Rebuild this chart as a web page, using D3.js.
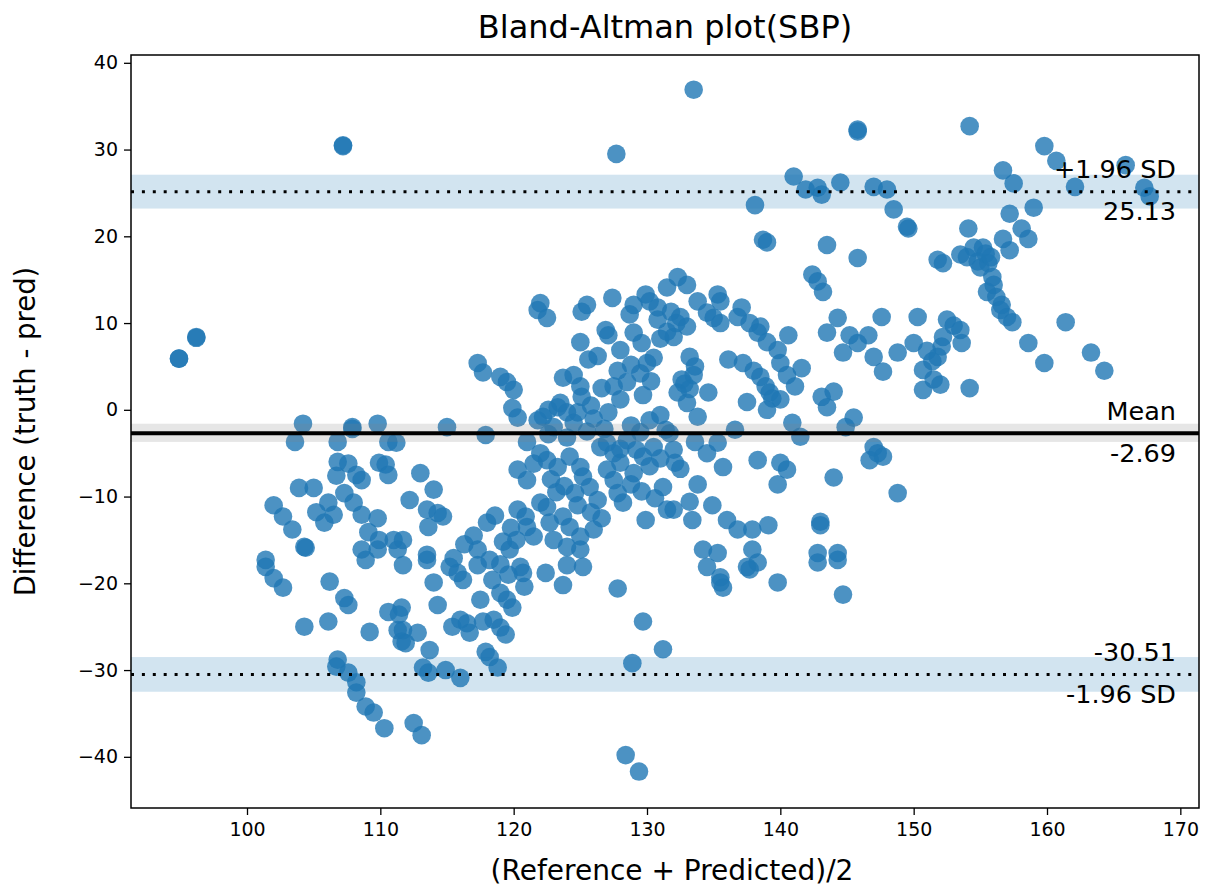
<!DOCTYPE html>
<html>
<head>
<meta charset="utf-8">
<script src="https://cdn.jsdelivr.net/npm/d3@7"></script>
<style>
  body { margin: 0; background: #fff; }
  text { font-family: "DejaVu Sans", sans-serif; fill: #000; }
</style>
</head>
<body>
<svg id="chart" width="1210" height="888"></svg>
<script>
// [mean of the two methods, difference] pairs
const leftPts = [
  [94.9,5.9],[94.9,5.9],[96.2,8.4],[96.2,8.3],[107.2,30.4],[107.2,30.5],
  [104.2,-1.6],[103.6,-3.7],[106.8,-3.7],[107.9,-2.0],[107.9,-2.2],[109.8,-1.6],[110.6,-3.7],[111.2,-3.8],
  [106.8,-6.0],[107.6,-6.2],[106.7,-7.6],[108.2,-7.5],[108.6,-8.1],[109.9,-6.1],[110.4,-6.3],[110.6,-7.5],
  [103.9,-9.0],[105.0,-9.0],[107.3,-9.6],[108.0,-10.7],[102.0,-11.0],[102.7,-12.3],[103.4,-13.8],[104.3,-15.8],[104.4,-15.9],
  [105.2,-11.8],[106.1,-10.7],[106.5,-12.1],[105.8,-13.0],[108.6,-12.1],[109.8,-12.5],[109.1,-14.1],[109.9,-15.0],
  [108.6,-16.1],[109.8,-16.1],[111.0,-15.0],[111.3,-16.1],[101.4,-17.3],[101.4,-18.1],[102.0,-19.4],[102.7,-20.5],
  [106.2,-19.8],[107.3,-21.7],[107.6,-22.5],[104.3,-25.0],[106.1,-24.4],[109.2,-25.6],[110.6,-23.3],[111.4,-23.6],
  [111.3,-25.4],[111.6,-26.7],[108.9,-17.3],[106.8,-28.8],[106.7,-29.6],[107.6,-30.3],[108.2,-31.4],[108.2,-32.6],
  [108.9,-34.2],[109.5,-34.9],[110.3,-36.7],
  [111.7,-17.9],[113.5,-17.3],[114.0,-19.9],[111.6,-22.8],[114.3,-22.5],[111.7,-25.4],[111.9,-26.9],[112.8,-25.7],
  [113.7,-27.7],[113.2,-29.7],[113.6,-30.3],[114.9,-30.0],[116.0,-30.9],[112.5,-36.1],[113.1,-37.5],
  [115.2,-18.1],[115.8,-18.8],[116.2,-19.6],
  [113.0,-7.3],[114.0,-9.2],[112.2,-10.4],[113.5,-11.5],[114.3,-11.9],[114.7,-12.3],[113.6,-13.5],[111.7,-15.0],
  [113.5,-16.7],[115.5,-17.1],[115.0,-2.0],[115.4,-25.0],[116.0,-24.2],[116.5,-24.6],[116.7,-25.7]
];

const centerPts = [
  [117.3,-17.9],[118.4,-19.6],[117.5,-21.9],[119.0,-21.1],[119.5,-21.9],[119.9,-22.8],[117.7,-24.4],[118.5,-24.2],
  [119.0,-25.1],[119.4,-25.9],[117.9,-27.9],[118.2,-28.5],[118.8,-29.7],[120.7,-18.8],[120.8,-20.4],[120.5,-18.1],
  [122.4,-18.8],[123.7,-20.2],[124.0,-17.9],[125.2,-18.1],[127.8,-20.6],[129.7,-24.4],[131.2,-27.6],[128.9,-29.2],
  [128.4,-39.8],[129.4,-41.7],
  [117.3,5.4],[117.7,4.3],[119.0,3.8],[119.5,3.2],[120.0,2.3],[119.9,0.2],[120.3,-0.9],[117.9,-2.9],
  [121.8,11.5],[122.5,10.6],[122.0,12.3],[125.5,12.1],[125.1,11.3],[127.4,12.9],[129.0,12.1],[129.9,13.3],
  [130.8,11.8],[131.5,14.1],[128.7,11.0],[130.8,10.4],[125.0,7.8],[125.6,5.8],[126.9,9.2],[127.1,8.6],[128.0,6.9],
  [129.0,8.9],[127.7,29.5],
  [123.7,3.7],[124.5,4.0],[125.0,2.7],[125.1,1.5],[126.6,2.5],[127.5,2.7],[128.5,3.2],[128.0,1.2],[127.1,-0.3],
  [129.7,1.7],[130.0,5.4],[130.5,6.0],[123.3,0.3],[122.2,-0.8],[124.0,-0.3],[124.8,-0.3],[121.8,-1.2],[121.0,-3.7],
  [122.0,-5.0],[122.5,-5.8],[123.3,-6.6],[124.2,-5.4],[125.0,-6.6],[125.2,-7.7],[125.7,-8.9],[126.3,-10.4],
  [126.5,-4.3],[127.5,-5.0],[128.0,-6.1],[127.0,-6.9],[127.5,-8.1],[127.8,-9.6],[128.2,-10.7],[129.0,-7.3],
  [128.5,-3.5],[129.7,-5.4],[130.5,-4.3],[131.2,-8.9],[131.5,-11.5],[129.9,-12.7],[120.3,-6.9],[121.0,-8.1],
  [117.3,-16.1],[119.7,-16.1],[120.3,-11.5],[120.9,-12.3],[122.0,-10.7],[122.5,-11.2],[121.0,-13.5],[121.5,-14.6],
  [122.7,-13.0],[123.7,-12.3],[124.2,-13.5],[125.0,-14.6],[126.0,-13.8],[123.0,-15.0],[124.0,-15.8],[125.0,-16.1],
  [122.6,0.0],[123.5,0.8],[123.0,-2.0],[124.5,-1.5],[125.5,-2.5],[126.0,-1.0],[126.8,-2.2],[125.8,0.5],[122.6,-2.8],
  [124.0,-3.2],[121.5,-6.2],[122.8,-8.0],[123.8,-8.8],[124.6,-9.6],[123.2,-9.5],[124.8,-11.0],[125.8,-11.8],
  [126.6,-12.5],[128.8,-1.8],[129.5,-2.6],[130.2,-1.2],[131.0,-0.6],[131.4,-2.3],[129.2,-4.6],[130.2,-6.5],
  [131.0,-5.6],[128.8,-8.6],[129.6,-9.4],[130.6,-10.2],[127.0,-3.8],[128.0,-4.5],[127.8,4.5],[128.8,5.2],
  [129.5,4.2],[130.3,3.3],[126.3,6.2],[129.6,7.7],[131.0,8.2],[130.2,12.5],
  [116.3,-15.5],[117.0,-14.5],[118.0,-13.0],[118.6,-12.2],[119.2,-15.2],[118.2,-17.3],[119.0,-17.8],[119.6,-19.0],
  [120.2,-15.0],[119.8,-13.6]
];

const centerRightPts = [
  [133.5,36.9],[132.3,15.3],[133.0,14.4],[133.8,12.5],[135.3,13.3],[135.5,12.5],[137.1,11.8],
  [132.5,10.7],[133.0,9.6],[132.0,8.4],[134.5,11.2],[135.5,10.0],[136.8,10.7],[137.7,10.0],[138.5,9.6],[138.3,8.9],
  [139.0,7.8],[139.8,6.9],[140.6,8.6],[140.0,5.4],[140.5,4.0],
  [133.2,6.1],[133.6,5.0],[133.5,4.0],[132.6,3.5],[132.3,2.0],[133.0,0.8],[133.8,-0.8],[134.6,2.0],[136.1,5.8],
  [137.2,5.4],[138.5,3.8],[138.9,2.7],[139.2,2.0],[140.0,1.2],[139.0,0.0],[137.5,0.9],[136.6,-2.3],
  [131.8,11.3],[132.2,10.0],[131.5,9.0],[135.0,10.6],[132.8,3.0],[133.2,2.4],[138.0,4.5],[139.4,1.3],
  [131.7,-2.7],[132.0,-4.6],[132.5,-6.8],
  [133.6,-3.7],[134.5,-5.0],[135.3,-3.8],[132.1,-6.1],[135.7,-6.6],[138.3,-5.8],[140.0,-6.1],[140.5,-6.9],[139.8,-8.6],
  [133.8,-8.6],[133.2,-10.6],[134.9,-11.0],[133.4,-12.7],[132.0,-11.5],[136.0,-12.7],[136.8,-13.8],[137.9,-13.8],
  [139.1,-13.3],[134.2,-16.1],[135.3,-16.5],[137.9,-16.1],[134.5,-18.1],[135.5,-19.3],[135.7,-20.5],[135.5,-19.9],
  [137.7,-18.4],[137.5,-18.1],[138.3,-17.6],[139.8,-19.9],
  [138.1,23.6],[138.7,19.6],[139.0,19.3]
];

const rightPts = [
  [141.0,26.9],[141.9,25.4],[142.8,25.6],[143.1,24.8],[144.5,26.2],[145.8,32.3],[145.8,32.1],[147.0,25.7],
  [148.0,25.4],[148.5,23.1],[149.5,21.1],[149.6,20.9],[143.5,19.0],[145.8,17.5],[151.8,17.3],[142.4,15.6],
  [142.8,14.8],[143.2,13.6],
  [141.6,4.8],[141.1,2.7],[144.3,10.6],[143.5,8.9],[144.7,6.6],[145.2,8.6],[145.8,7.7],[146.6,8.6],[147.6,10.7],
  [147.0,6.1],[147.7,4.4],[148.8,6.6],[150.0,7.7],[150.3,10.7],[150.7,4.6],[150.7,2.3],[151.8,6.1],[151.0,6.8],
  [151.4,5.6],[152.2,8.4],[151.5,3.5],
  [143.1,1.5],[144.0,2.1],[143.5,0.3],[145.5,-0.9],[144.9,-2.0],[140.9,-1.5],[141.5,-3.1],
  [144.0,-7.8],[147.0,-4.3],[147.7,-5.4],[146.7,-5.8],[147.3,-5.0],[148.8,-9.6],
  [143.0,-12.9],[143.0,-13.3],[142.8,-16.5],[144.3,-16.5],[142.8,-17.6],[144.3,-17.3],[144.7,-21.3],
  [154.2,32.7],[159.8,30.4],[160.7,28.7],[165.9,28.2],[156.7,27.6],[157.5,26.1],[162.1,25.7],[167.3,25.6],
  [167.7,24.6],[159.0,23.3],[157.2,22.6],[154.1,20.9],[158.1,20.9],[158.6,19.7],[156.7,19.7],[157.2,18.4],
  [153.5,17.9],[152.2,16.9],[154.5,18.7],[155.2,18.7],[154.8,17.1],[155.6,16.9],[155.0,16.4],[155.9,15.3],
  [156.0,14.4],[155.5,13.6],[156.2,13.0],[156.6,12.1],[154.0,17.6],[155.4,18.0],[155.8,17.6],
  [152.5,10.4],[153.0,9.7],[153.5,9.2],[153.6,7.7],[152.1,7.3],[152.0,2.9],[154.2,2.5],[157.4,10.1],[157.0,10.7],
  [156.5,11.5],[158.6,7.7],[159.8,5.4],[161.4,10.1],[163.3,6.6],[164.3,4.5]
];

// agreement statistics and their confidence bands
const meanDiff = -2.69;
const upperLoA = 25.13;
const lowerLoA = -30.51;
const meanCI = [-3.7, -1.6];
const upperCI = [23.2, 27.1];
const lowerCI = [-32.5, -28.5];

const xTicks = [100, 110, 120, 130, 140, 150, 160, 170];
const yTicks = [-40, -30, -20, -10, 0, 10, 20, 30, 40];

const points = [...leftPts, ...centerPts, ...centerRightPts, ...rightPts];

const svg = d3.select('#chart');
const plotL = 131, plotR = 1199, plotT = 55, plotB = 808;

const x = d3.scaleLinear().domain([91.3, 171.4]).range([plotL, plotR]);
const y = d3.scaleLinear().domain([-45.9, 40.9]).range([plotB, plotT]);

// scatter
svg.append('g')
  .selectAll('circle')
  .data(points)
  .join('circle')
  .attr('cx', (d) => x(d[0]))
  .attr('cy', (d) => y(d[1]))
  .attr('r', 9.3)
  .attr('fill', '#1f77b4')
  .attr('fill-opacity', 0.8);

// confidence bands
const bands = [
  { ci: upperCI, color: '#1f77b4' },
  { ci: meanCI, color: '#808080' },
  { ci: lowerCI, color: '#1f77b4' }
];
svg.append('g')
  .selectAll('rect')
  .data(bands)
  .join('rect')
  .attr('x', plotL)
  .attr('width', plotR - plotL)
  .attr('y', (d) => y(d.ci[1]))
  .attr('height', (d) => y(d.ci[0]) - y(d.ci[1]))
  .attr('fill', (d) => d.color)
  .attr('fill-opacity', 0.2);

// mean and limits of agreement
svg.append('line')
  .attr('x1', plotL).attr('x2', plotR)
  .attr('y1', y(meanDiff)).attr('y2', y(meanDiff))
  .attr('stroke', '#000').attr('stroke-width', 4);

svg.append('g')
  .selectAll('line')
  .data([upperLoA, lowerLoA])
  .join('line')
  .attr('x1', plotL).attr('x2', plotR)
  .attr('y1', (d) => y(d)).attr('y2', (d) => y(d))
  .attr('stroke', '#000')
  .attr('stroke-width', 3)
  .attr('stroke-dasharray', '3,7.9');

// axes
const fmt = d3.format('d');
svg.append('g')
  .attr('transform', `translate(0,${plotB})`)
  .call(d3.axisBottom(x).tickValues(xTicks).tickFormat(fmt).tickSize(7).tickPadding(8))
  .call((g) => g.select('.domain').remove())
  .call((g) => g.selectAll('line').attr('stroke-width', 1.3))
  .call((g) => g.selectAll('text').attr('font-size', 19).attr('font-family', 'DejaVu Sans'));

svg.append('g')
  .attr('transform', `translate(${plotL},0)`)
  .call(d3.axisLeft(y).tickValues(yTicks).tickFormat(fmt).tickSize(7).tickPadding(6))
  .call((g) => g.select('.domain').remove())
  .call((g) => g.selectAll('line').attr('stroke-width', 1.3))
  .call((g) => g.selectAll('text').attr('font-size', 19).attr('font-family', 'DejaVu Sans'));

svg.append('rect')
  .attr('x', plotL).attr('y', plotT)
  .attr('width', plotR - plotL).attr('height', plotB - plotT)
  .attr('fill', 'none').attr('stroke', '#000').attr('stroke-width', 1.5);

// annotations
const annX = 1176;
const ann = [
  { t: '+1.96 SD', v: upperLoA, dy: -14 },
  { t: upperLoA.toFixed(2), v: upperLoA, dy: 28 },
  { t: 'Mean', v: meanDiff, dy: -13 },
  { t: meanDiff.toFixed(2), v: meanDiff, dy: 29 },
  { t: lowerLoA.toFixed(2), v: lowerLoA, dy: -13 },
  { t: '-1.96 SD', v: lowerLoA, dy: 29 }
];
svg.append('g')
  .selectAll('text')
  .data(ann)
  .join('text')
  .attr('x', annX)
  .attr('y', (d) => y(d.v) + d.dy)
  .attr('text-anchor', 'end')
  .attr('font-size', 25.5)
  .text((d) => d.t);

// titles
svg.append('text')
  .attr('x', (plotL + plotR) / 2).attr('y', 38)
  .attr('text-anchor', 'middle').attr('font-size', 32)
  .text('Bland-Altman plot(SBP)');

svg.append('text')
  .attr('x', (plotL + plotR) / 2 + 7).attr('y', 880)
  .attr('text-anchor', 'middle').attr('font-size', 28)
  .text('(Reference + Predicted)/2');

svg.append('text')
  .attr('transform', `translate(35,${(plotT + plotB) / 2}) rotate(-90)`)
  .attr('text-anchor', 'middle').attr('font-size', 27.5)
  .text('Difference (truth - pred)');
</script>
</body>
</html>
